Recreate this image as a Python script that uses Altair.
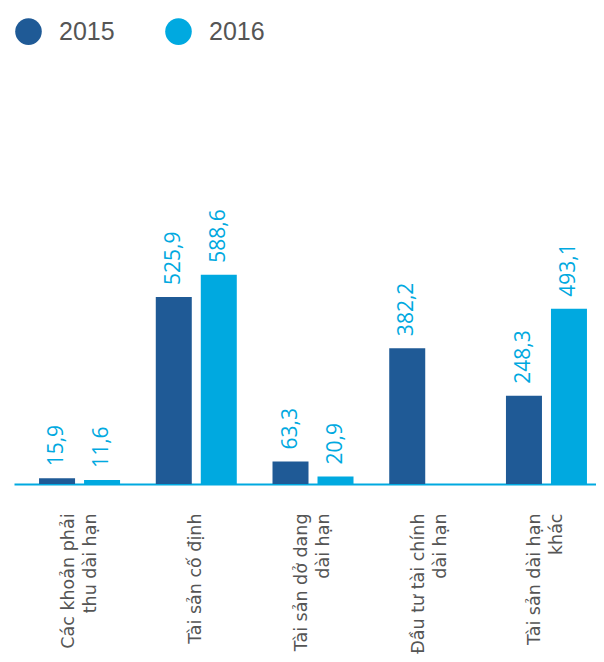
import altair as alt
import pandas as pd

categories = [
    "Các khoản phải\nthu dài hạn",
    "Tài sản cố định",
    "Tài sản dở dang\ndài hạn",
    "Đầu tư tài chính\ndài hạn",
    "Tài sản dài hạn\nkhác",
]
years = ["2015", "2016"]
values_2015 = [15.9, 525.9, 63.3, 382.2, 248.3]
values_2016 = [11.6, 588.6, 20.9, None, 493.1]

rows = []
for cat, v15, v16 in zip(categories, values_2015, values_2016):
    for yr, v in (("2015", v15), ("2016", v16)):
        if v is None:
            continue
        rows.append({"cat": cat, "year": yr, "value": v,
                     "label": f"{v:.1f}".replace(".", ",")})
df = pd.DataFrame(rows)

DARK = "#1f5a96"
LIGHT = "#00a9e0"
FONT = "Open Sans"

x_enc = alt.X("cat:N", sort=categories,
              scale=alt.Scale(paddingInner=0.306, paddingOuter=0.146, align=0.735),
              axis=alt.Axis(title=None, labelAngle=-90, labelAlign="right",
                            labelBaseline="middle", labelPadding=29, ticks=False,
                            domain=True, domainColor=LIGHT, domainWidth=2,
                            labelFontSize=17.5, labelColor="#555555", labelFont="DejaVu Sans",
                            labelLineHeight=22, labelLimit=0,
                            labelOffset={"condition": {"test": "indexof(datum.value, '\\n') >= 0",
                                                       "value": -11},
                                         "value": 0},
                            labelExpr="split(datum.label, '\\n')"))
xo_enc = alt.XOffset("year:N", scale=alt.Scale(paddingInner=0.2, paddingOuter=0))
y_enc = alt.Y("value:Q", scale=alt.Scale(domain=[0, 1339], nice=False), axis=None)

bars = alt.Chart(df).mark_bar().encode(
    x=x_enc, xOffset=xo_enc, y=y_enc,
    color=alt.Color("year:N", scale=alt.Scale(domain=years, range=[DARK, LIGHT]),
                    legend=alt.Legend(title=None, orient="none", legendX=1, legendY=10,
                                      direction="horizontal", symbolType="circle",
                                      symbolSize=707, symbolStrokeWidth=0,
                                      symbolOpacity=1, labelFontSize=25,
                                      labelColor="#555555", labelFont="Liberation Sans",
                                      labelOffset=17, columnPadding=50, padding=0)),
)

labels = alt.Chart(df).mark_text(angle=270, align="left", baseline="middle", dx=12,
                                 fontSize=21, color=LIGHT, font=FONT).encode(
    x=alt.X("cat:N", sort=categories), xOffset=alt.XOffset("year:N"), y=y_enc,
    text="label:N",
)

chart = (bars + labels).properties(
    width=582, height=476,
    padding={"left": 6, "top": 0, "right": 0, "bottom": 0},
).configure_view(stroke=None)

chart.save("out.html", embed_options={"renderer": "svg", "actions": False})
